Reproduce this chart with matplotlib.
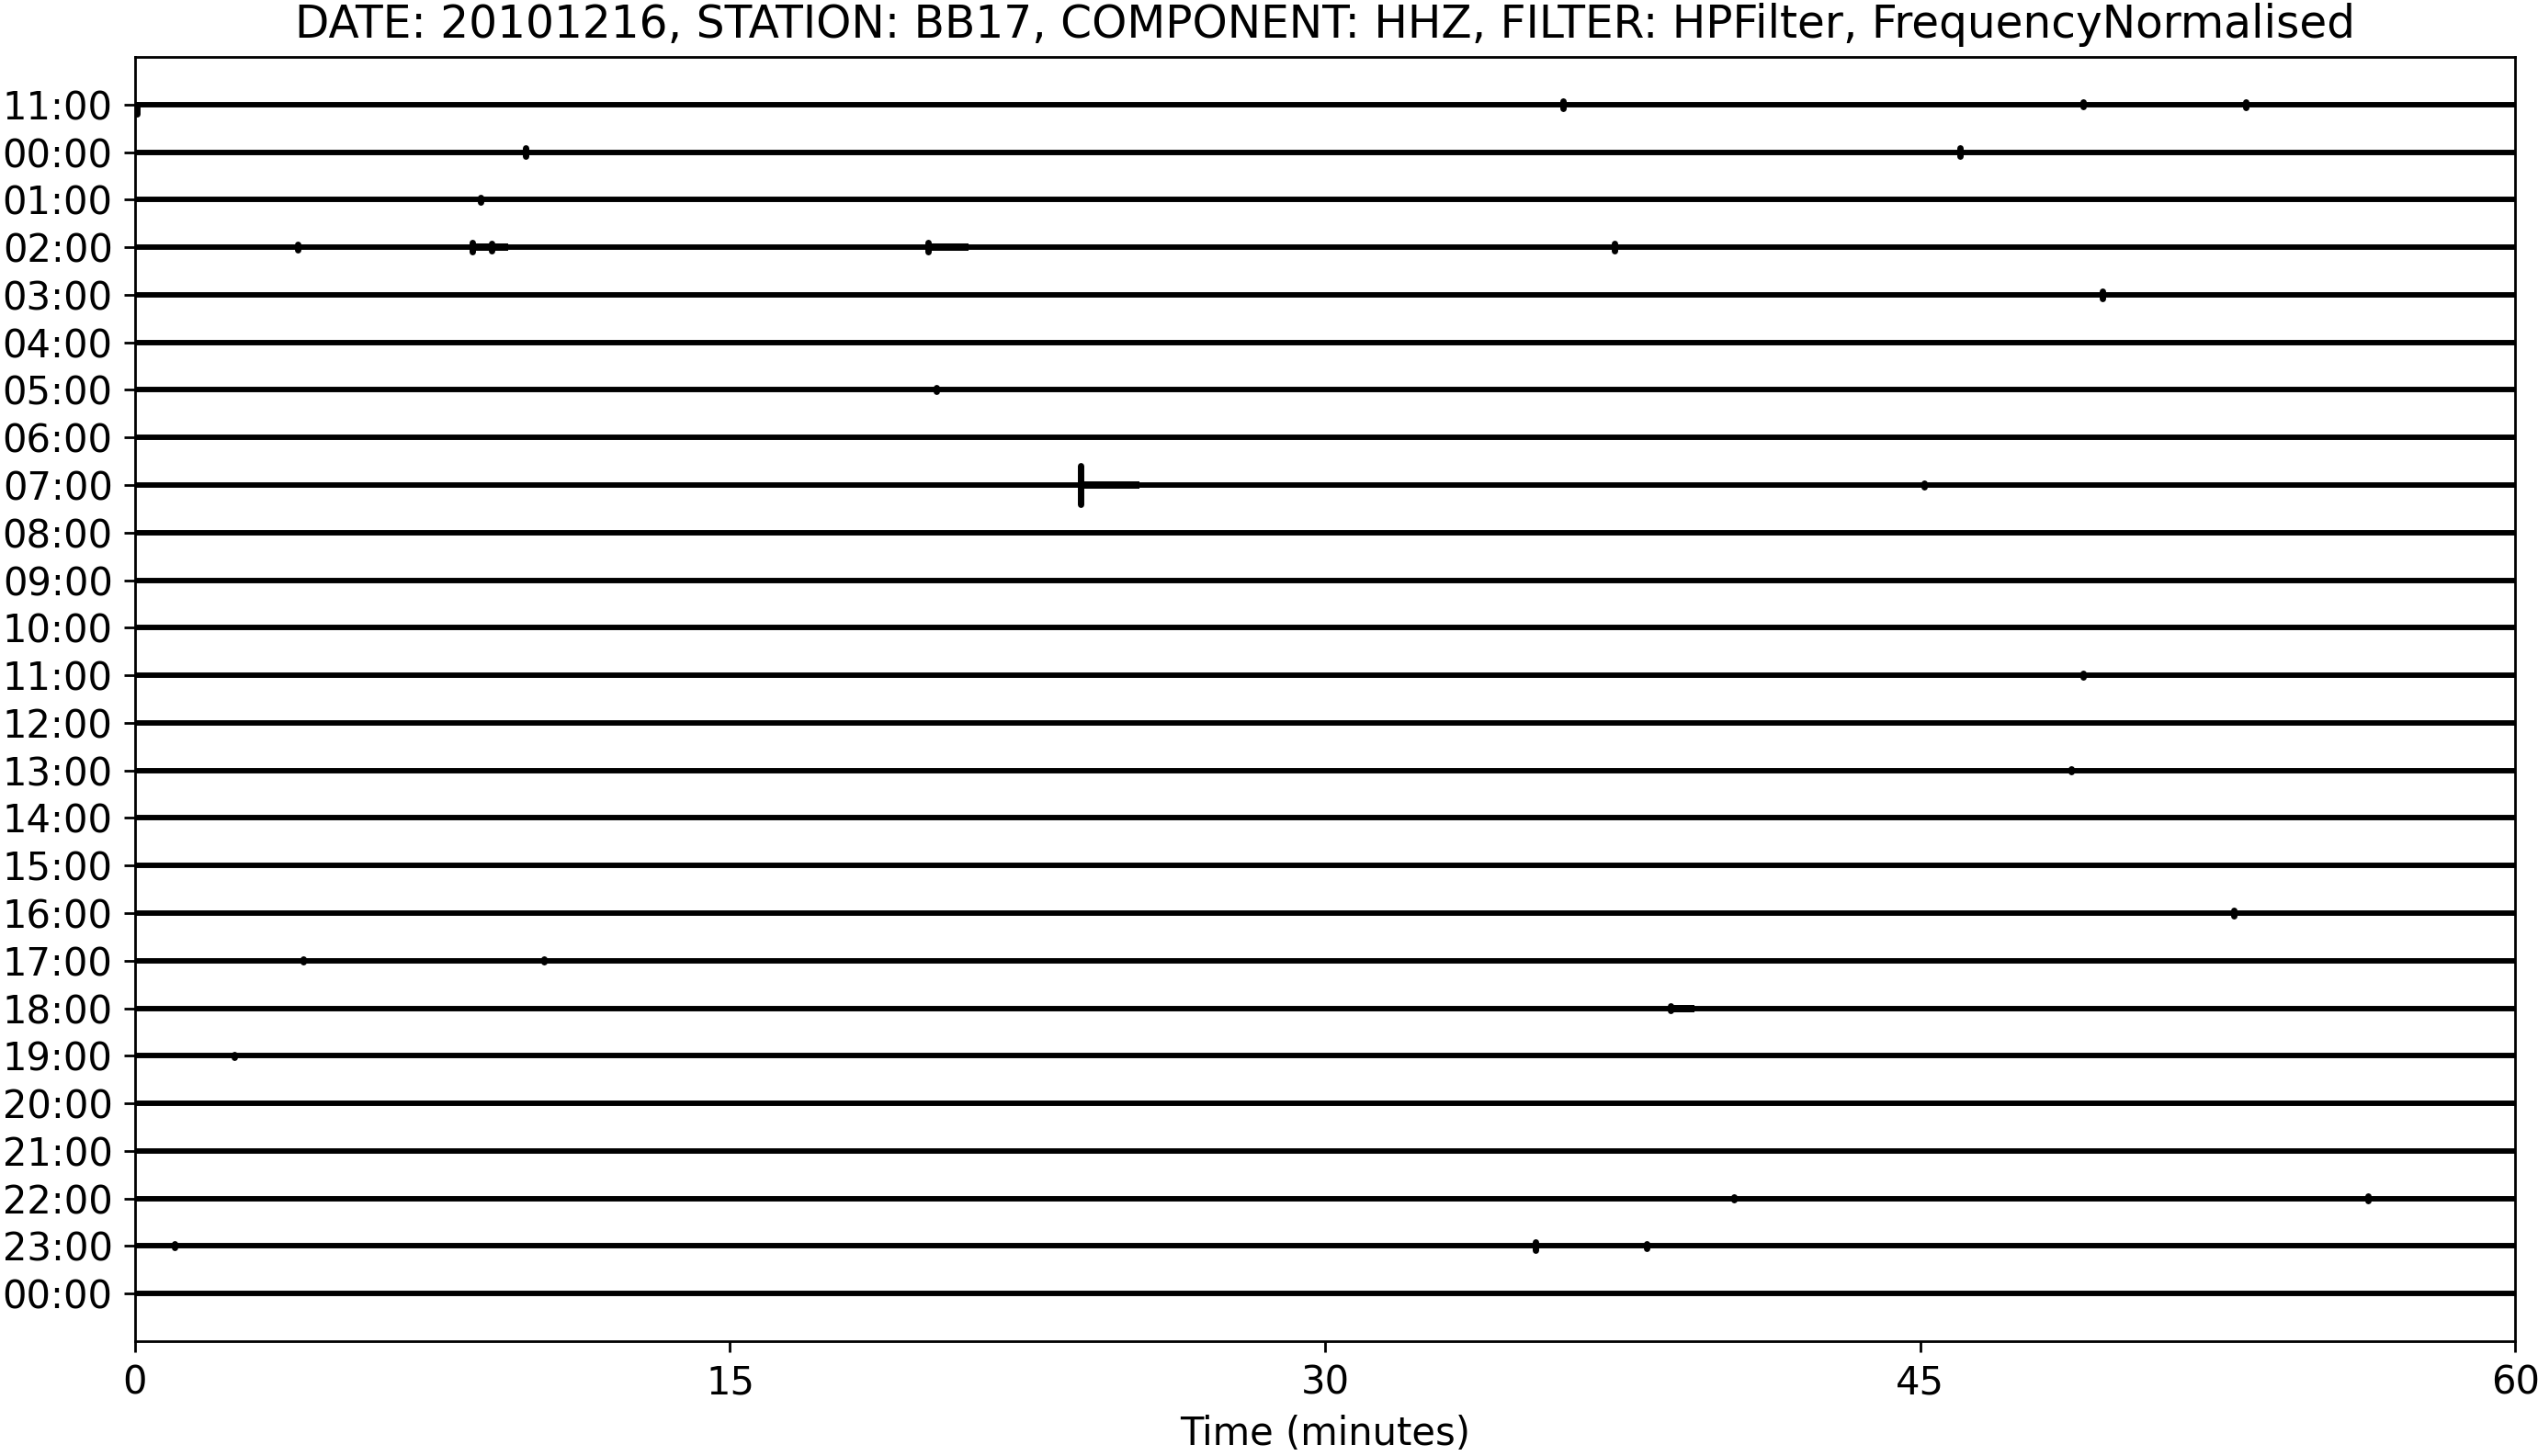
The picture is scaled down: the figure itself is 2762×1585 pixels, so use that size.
import matplotlib
matplotlib.use("Agg")
import matplotlib.pyplot as plt

# hour labels of the 26 one-hour rows (top to bottom)
hour_labels = ["11:00", "00:00", "01:00", "02:00", "03:00", "04:00", "05:00",
               "06:00", "07:00", "08:00", "09:00", "10:00", "11:00", "12:00",
               "13:00", "14:00", "15:00", "16:00", "17:00", "18:00", "19:00",
               "20:00", "21:00", "22:00", "23:00", "00:00"]

# events: row index, time in minutes, half amplitude (row units),
# length of the coda after the onset (minutes)
event_row = [0, 0, 0, 0, 1, 1, 2, 3, 3, 3, 3, 3, 4, 6, 8, 8, 12, 14, 17, 18, 18,
             19, 20, 23, 23, 24, 24, 24]
event_min = [0.05, 36.0, 49.1, 53.2, 9.85, 46.0, 8.7, 4.1, 8.5, 9.0, 20.0, 37.3,
             49.6, 20.2, 23.83, 45.1, 49.1, 48.8, 52.9, 4.25, 10.3, 38.7, 2.5, 56.3,
             40.3, 1.0, 35.3, 38.1]
event_amp = [0.2, 0.08, 0.05, 0.06, 0.08, 0.08, 0.05, 0.06, 0.09, 0.08, 0.09, 0.07,
             0.08, 0.04, 0.41, 0.04, 0.04, 0.03, 0.05, 0.03, 0.03, 0.04, 0.03, 0.05,
             0.03, 0.04, 0.09, 0.05]
event_coda = [0.0, 0.0, 0.0, 0.0, 0.0, 0.0, 0.0, 0.0, 0.5, 0.4, 1.0, 0.0,
              0.0, 0.0, 1.5, 0.0, 0.0, 0.0, 0.0, 0.0, 0.0, 0.6, 0.0, 0.0,
              0.0, 0.0, 0.0, 0.0]

title = "DATE: 20101216, STATION: BB17, COMPONENT: HHZ, FILTER: HPFilter, FrequencyNormalised"

plt.rcParams["font.size"] = 12

fig = plt.figure(figsize=(2762 / 250, 1585 / 250), dpi=250)
ax = fig.add_axes([0.0532, 0.0789, 0.9378, 0.8820])

rows = list(range(len(hour_labels)))
ax.hlines(rows, 0, 60, color="black", lw=1.7)

# onsets (the one at the very start of the first row only swings downward)
lows = [r if t < 1 and r == 0 else r - a for r, t, a in zip(event_row, event_min, event_amp)]
highs = [r + a for r, a in zip(event_row, event_amp)]
ax.vlines(event_min, lows, highs, color="black", lw=2.0, capstyle="round")

# codas a bit thicker than the trace
for r, t, d in zip(event_row, event_min, event_coda):
    if d > 0:
        ax.hlines(r, t, t + d, color="black", lw=2.3)

ax.set_xlim(0, 60)
ax.set_ylim(26, -1)
ax.set_xticks([0, 15, 30, 45, 60])
ax.set_yticks(rows)
ax.set_yticklabels(hour_labels)
ax.set_xlabel("Time (minutes)")
ax.set_title(title, fontsize=14)

fig.savefig("out.png", dpi=250)
